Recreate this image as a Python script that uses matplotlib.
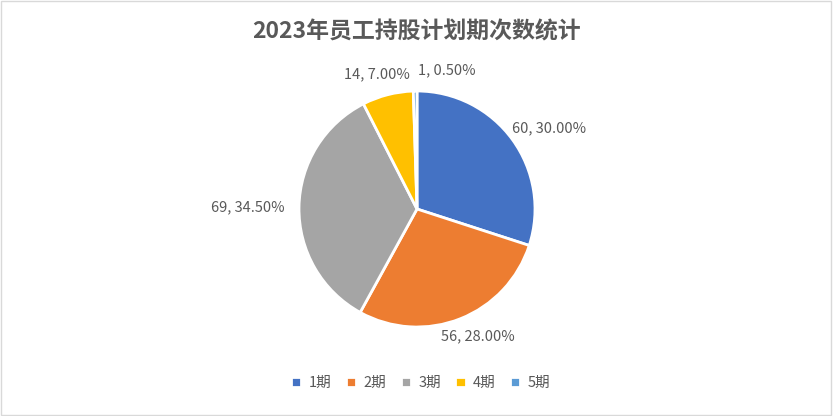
import numpy as np
import matplotlib
matplotlib.use('Agg')
import matplotlib.pyplot as plt
from matplotlib.patches import Rectangle

plt.rcParams['font.family'] = ['Noto Sans CJK SC', 'DejaVu Sans']

categories = ['1期', '2期', '3期', '4期', '5期']
counts = [60, 56, 69, 14, 1]
colors = ['#4472C4', '#ED7D31', '#A5A5A5', '#FFC000', '#5B9BD5']
title = '2023年员工持股计划期次数统计'
text_color = '#595959'


def main():
    fig = plt.figure(figsize=(8.33, 4.16), dpi=100)
    fig.patches.append(Rectangle((0.001, 0.002), 0.997, 0.995, transform=fig.transFigure,
                                 fill=False, edgecolor='#D9D9D9', linewidth=1))

    # pie centre ~ (417, 209) px, radius ~ 118 px
    r_px = 118
    ax = fig.add_axes([(417 - r_px) / 833, (416 - 209 - r_px) / 416, 2 * r_px / 833, 2 * r_px / 416])
    wedges, _ = ax.pie(counts, colors=colors, startangle=90, counterclock=False,
                       wedgeprops=dict(edgecolor='white', linewidth=2))
    ax.set_xlim(-1, 1)
    ax.set_ylim(-1, 1)
    ax.set_aspect('equal')
    ax.axis('off')

    total = sum(counts)
    for w, n in zip(wedges, counts):
        mid = np.deg2rad((w.theta1 + w.theta2) / 2)
        c, s = np.cos(mid), np.sin(mid)
        label = f'{n}, {n / total:.2%}'
        if s > 0.7:
            # small slices near the top: anchor at the edge closest to vertical
            edge = min((w.theta1, w.theta2), key=lambda t: abs(t % 360 - 90))
            e = np.deg2rad(edge)
            ha = 'right' if c < -0.05 else 'left'
            x = 1.1 * np.cos(e) + (-0.03 if ha == 'right' else 0.01)
            y = 1.1 * np.sin(mid) + 0.02
            va = 'bottom'
        elif s < -0.7:
            x, y = 1.08 * c + 0.12, 1.1 * s
            ha, va = 'center', 'top'
        else:
            x, y = 1.06 * c + (-0.06 if c < 0 else -0.05), 1.17 * s
            ha = 'left' if c >= 0 else 'right'
            va = 'center'
        ax.text(x, y, label, ha=ha, va=va, fontsize=10.5, color=text_color, clip_on=False)

    fig.text(0.5, 1 - 32 / 416, title, ha='center', va='center',
             fontsize=16.5, fontweight='bold', color=text_color)

    fig.legend(wedges, categories, loc='center', bbox_to_anchor=(0.505, 1 - 383 / 416),
               ncol=5, frameon=False, fontsize=10.5, labelcolor=text_color,
               handlelength=0.7, handleheight=0.7, handletextpad=0.5, columnspacing=1.0)

    fig.savefig('out.png', dpi=100)


if __name__ == '__main__':
    main()
